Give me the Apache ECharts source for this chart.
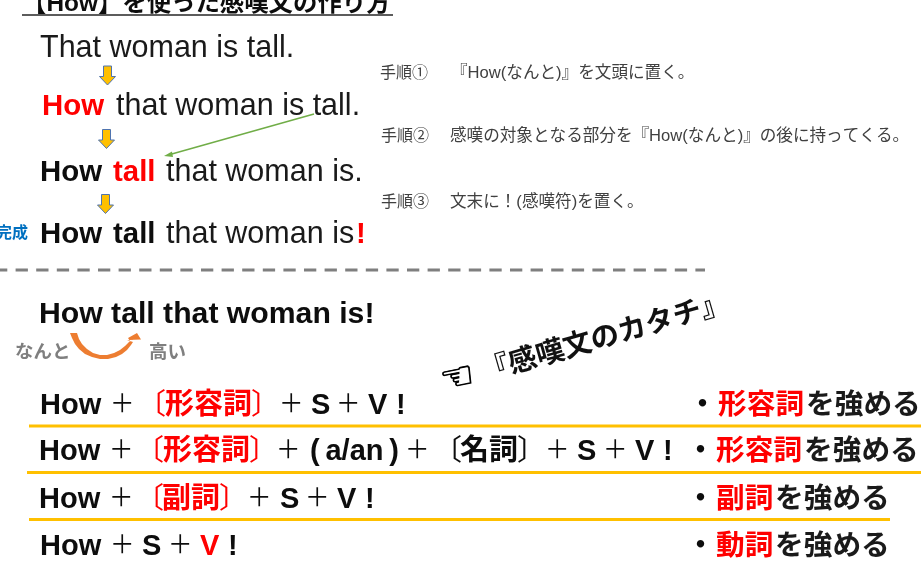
<!DOCTYPE html>
<html><head><meta charset="utf-8">
<style>html,body{margin:0;padding:0;background:#fff}#c{width:921px;height:566px}</style>
<script src="https://cdn.jsdelivr.net/npm/echarts@6/dist/echarts.min.js"></script>
</head><body><div id="c"></div>
<script>
const titleText = '【How】を使った感嘆文の作り方';
const sentence1 = ['That woman is tall.'];
const sentence2 = ['How', 'that woman is tall.'];
const sentence3 = ['How', 'tall', 'that woman is.'];
const sentence4 = ['How', 'tall', 'that woman is', '!'];
const stepHeads = ['手順①', '手順②', '手順③'];
const stepBodies = ['『How(なんと)』を文頭に置く。', '感嘆の対象となる部分を『How(なんと)』の後に持ってくる。', '文末に！(感嘆符)を置く。'];
const doneLabel = '完成';
const example = 'How tall that woman is!';
const glossLeft = 'なんと', glossRight = '高い';
const formLabel = '『感嘆文のカタチ』';
const handGlyph = '☜';
const row1 = ['How', '+', '〔', '形容詞', '〕', '+', 'S', '+', 'V', '!'];
const row2 = ['How', '+', '〔', '形容詞', '〕', '+', '(\u2009a/an\u2009)', '+', '〔', '名詞', '〕', '+', 'S', '+', 'V', '!'];
const row3 = ['How', '+', '〔', '副詞', '〕', '+', 'S', '+', 'V', '!'];
const row4 = ['How', '+', 'S', '+', 'V', '!'];
const note1 = ['・', '形容詞', 'を強める'];
const note2 = ['・', '形容詞', 'を強める'];
const note3 = ['・', '副詞', 'を強める'];
const note4 = ['・', '動詞', 'を強める'];

const FONT = '"Liberation Sans","Noto Sans CJK JP",sans-serif';
const RED = '#FF0000', INK = '#0d0d0d';
const els = [];
function T(text, x, y, size, o) {
  o = o || {};
  const st = {
    text, x:0, y:0, fontSize:size, fontFamily:o.family||FONT, fontWeight:o.weight||'normal',
    fill:o.fill||INK, align:o.align||'left', verticalAlign:'middle'};
  if (o.stroke) { st.stroke = o.stroke; st.lineWidth = o.sw; }
  els.push({type:'text', x, y: y + (o.family ? 0 : size*0.1), rotation:o.rot||0, silent:true, style:st});
}
function L(x1,y1,x2,y2,color,w,dash){
  els.push({type:'line', silent:true, shape:{x1,y1,x2,y2}, style:{stroke:color,lineWidth:w,lineDash:dash||null}});
}
function P(points, fill, stroke, w){
  els.push({type:'polygon', silent:true, shape:{points}, style:{fill, stroke:stroke||null, lineWidth:w||0}});
}
function downArrow(cx, top){
  P([[cx-4,top],[cx+4,top],[cx+4,top+10.5],[cx+8,top+10.5],[cx,top+19],[cx-8,top+10.5],[cx-4,top+10.5]], '#FFC000', '#4F74B0', 1);
}

// title
T(titleText, 22, 2, 24.4, {weight:'bold'});
L(22,15,393,15,'#262626',1.5);

// build-up sentences
const S = 30.5, B = 29.4, D = '#1a1a1a';
T(sentence1[0], 40, 46, S, {fill:D});
T(sentence2[0], 42, 104, B, {weight:'bold', fill:RED});
T(sentence2[1], 116, 104, S, {fill:D});
T(sentence3[0], 40, 170, B, {weight:'bold'});
T(sentence3[1], 113, 170, B, {weight:'bold', fill:RED});
T(sentence3[2], 166, 170, S, {fill:D});
T(sentence4[0], 40, 232, B, {weight:'bold'});
T(sentence4[1], 113, 232, B, {weight:'bold'});
T(sentence4[2], 166, 232, S, {fill:D});
T(sentence4[3], 356, 232, B, {weight:'bold', fill:RED});
downArrow(107.5, 66); downArrow(106.5, 129.5); downArrow(105.5, 194.5);

// move arrow
L(314,114,170,154.5,'#70AD47',1.6);
P([[164,156],[172,151.5],[173,157]], '#70AD47');

// steps
const H = 16, ST = 16.6, G = '#404040';
T(stepHeads[0], 380, 72, H, {fill:G});
T(stepBodies[0], 451, 72, ST, {fill:G});
T(stepHeads[1], 381, 135, H, {fill:G});
T(stepBodies[1], 450, 135, ST, {fill:G});
T(stepHeads[2], 381, 201, H, {fill:G});
T(stepBodies[2], 450, 201, ST, {fill:G});
T(doneLabel, 28, 232, 16, {weight:'bold', fill:'#0070C0', align:'right'});

// divider
L(-5,270,705,270,'#7F7F7F',3,[12.3,8.3]);

// example
T(example, 39, 312, 30.2, {weight:'bold'});
T(glossLeft, 15, 351, 18.5, {weight:'bold', fill:'#7F7F7F'});
T(glossRight, 149, 351, 18.5, {weight:'bold', fill:'#7F7F7F'});
P([[70,333],[72,338],[75,344],[79,349],[85,354],[92,357],[100,359],[108,359],[116,357],[122,354],[127,350],[131,345],[133,342],[127,340],[141,339.5],[137,333],[128,338],[130,341],[125,346],[120,350],[114,353],[107,355],[100,355],[93,353],[87,349],[82,344],[79,339],[77,333]], '#ED7D31');

// form label
T(handGlyph, 441, 383, 38, {rot:0.2, family:'"DejaVu Sans"', fill:'#000', stroke:'#000', sw:0.9});
T(formLabel, 482, 371, 28.5, {rot:0.28, weight:'bold', fill:'#111'});

// rows
const R = 29, PL = 24.5;
function row(parts, xs, y, redIdx){
  parts.forEach((p,i)=>{
    const plus = p === '+';
    const thin = plus || p === '〔' || p === '〕';
    T(plus ? '＋' : p, xs[i], y, plus ? PL : R, {weight: thin ? 'normal' : 'bold', fill: redIdx.includes(i) ? RED : INK});
  });
}
row(row1,[40,110,137,165,251,279,311,336,368,396],403,[2,3,4]);
row(row2,[39,109,135,163,249,276,310,405,433,460,517,545,577,603,635,663],449,[2,3,4]);
row(row3,[39,109,135,162,219,247,280,305,337,365],497,[2,3,4]);
row(row4,[40,110,142,168,200,228],544,[4]);
L(29,426,921,426,'#FFC000',3);
L(27,472.5,921,472.5,'#FFC000',3);
L(29,519.5,890,519.5,'#FFC000',3);

const NR = 28.7;
function note(parts, y, x0, x1, x2){
  T(parts[0], x0, y, R, {weight:'bold'});
  T(parts[1], x1, y, NR, {weight:'bold', fill:RED});
  T(parts[2], x2, y, NR, {weight:'bold', fill:'#1a1a1a'});
}
note(note1,403,688,718,806);
note(note2,449,686,716,804);
note(note3,497,686,716,775);
note(note4,544,686,716,775);

const chart = echarts.init(document.getElementById('c'), null, {renderer:'canvas'});
chart.setOption({animation:false, backgroundColor:'#fff', graphic:{elements:els}});
</script></body></html>
